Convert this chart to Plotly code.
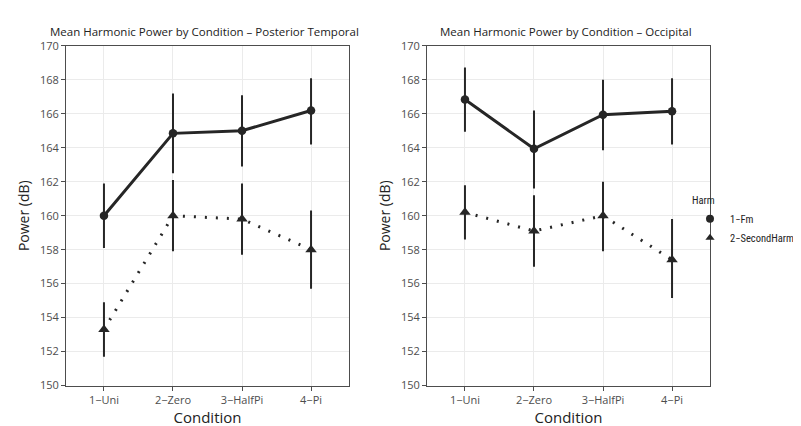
import plotly.graph_objects as go

conditions = ["1−Uni", "2−Zero", "3−HalfPi", "4−Pi"]
harm_labels = ["1−Fm", "2−SecondHarm"]
titles = ["Mean Harmonic Power by Condition – Posterior Temporal",
          "Mean Harmonic Power by Condition – Occipital"]

# Posterior temporal
pt_fm = [160.0, 164.85, 165.0, 166.2]
pt_fm_lo = [158.1, 162.5, 162.9, 164.2]
pt_fm_hi = [161.9, 167.2, 167.1, 168.1]
pt_sh = [153.3, 160.0, 159.8, 158.0]
pt_sh_lo = [151.7, 157.9, 157.7, 155.7]
pt_sh_hi = [154.9, 162.1, 161.9, 160.3]

# Occipital
oc_fm = [166.84, 163.94, 165.95, 166.15]
oc_fm_lo = [164.94, 161.6, 163.86, 164.2]
oc_fm_hi = [168.73, 166.2, 168.0, 168.1]
oc_sh = [160.2, 159.1, 160.0, 157.4]
oc_sh_lo = [158.6, 157.0, 157.9, 155.15]
oc_sh_hi = [161.8, 161.2, 162.0, 159.8]

W, H = 801, 426
FONT = "Open Sans"
NARROW = "Liberation Sans Narrow, Roboto Condensed, DejaVu Sans Condensed, Roboto"
DARK = "#262626"

fig = go.Figure()

def add_series(xa, ya, y, lo, hi, symbol, msize, dash):
    x = list(range(len(conditions)))
    fig.add_trace(go.Scatter(
        x=x, y=y, mode="lines+markers", xaxis=xa, yaxis=ya, showlegend=False,
        line=dict(color=DARK, width=3, dash=dash),
        marker=dict(symbol=symbol, size=msize, color=DARK),
        error_y=dict(type="data", symmetric=False,
                     array=[h - v for h, v in zip(hi, y)],
                     arrayminus=[v - l for v, l in zip(y, lo)],
                     color=DARK, thickness=2, width=0),
        cliponaxis=False,
    ))

add_series("x", "y", pt_fm, pt_fm_lo, pt_fm_hi, "circle", 8.5, "solid")
add_series("x", "y", pt_sh, pt_sh_lo, pt_sh_hi, "triangle-up", 10, "2px,9px")
add_series("x2", "y2", oc_fm, oc_fm_lo, oc_fm_hi, "circle", 8.5, "solid")
add_series("x2", "y2", oc_sh, oc_sh_lo, oc_sh_hi, "triangle-up", 10, "2px,9px")

# legend entries (markers only, like ggplot keys)
for lab, sym in zip(harm_labels, ["circle", "triangle-up"]):
    fig.add_trace(go.Scatter(x=[None], y=[None], mode="markers", name=lab,
                             marker=dict(symbol=sym, size=8, color=DARK),
                             xaxis="x2", yaxis="y2"))

px = lambda v: v / W
py = lambda v: 1 - v / H

axis_common = dict(showline=True, mirror=True, linecolor="#4d4d4d", linewidth=1,
                   showgrid=True, gridcolor="#ebebeb", gridwidth=1,
                   ticks="outside", ticklen=4, tickcolor="#4d4d4d",
                   tickfont=dict(family=FONT, size=11, color="#4d4d4d"),
                   zeroline=False)

xticks = dict(tickmode="array", tickvals=list(range(len(conditions))), ticktext=conditions,
              range=[-0.55, 3.55])
yticks = dict(range=[150, 170], tickmode="linear", tick0=150, dtick=2)

xtitle = dict(text="Condition", font=dict(family=FONT, size=15, color="#222"), standoff=0)
ytitle = dict(text="Power (dB)", font=dict(family=FONT, size=14, color="#222"), standoff=7)

fig.update_layout(
    width=W, height=H, margin=dict(l=0, r=0, t=0, b=0),
    paper_bgcolor="white", plot_bgcolor="white",
    font=dict(family=FONT, color="#333"),
    xaxis=dict(domain=[px(58), px(341)], anchor="y", **xticks, **axis_common, title=xtitle),
    yaxis=dict(domain=[py(383), py(31)], anchor="x", **yticks, **axis_common, title=ytitle),
    xaxis2=dict(domain=[px(419), px(702)], anchor="y2", **xticks, **axis_common, title=xtitle),
    yaxis2=dict(domain=[py(383), py(31)], anchor="x2", **yticks, **axis_common, title=ytitle),
    legend=dict(x=px(682), y=py(181), xanchor="left", yanchor="top",
                title=dict(text="Harm", font=dict(family=NARROW, size=10.5, color="#222")),
                font=dict(family=NARROW, size=10.5, color="#222"),
                tracegroupgap=0, itemwidth=30, bgcolor="rgba(0,0,0,0)"),
    showlegend=True,
)

for i, t in enumerate(titles):
    cx = (58 + 341) / 2 if i == 0 else (419 + 702) / 2
    fig.add_annotation(text=t, x=px(cx - 3), y=py(16), xref="paper", yref="paper",
                       showarrow=False, xanchor="center", yanchor="middle",
                       font=dict(family=FONT, size=11.5, color="#222"))

fig.write_html("out.html")
